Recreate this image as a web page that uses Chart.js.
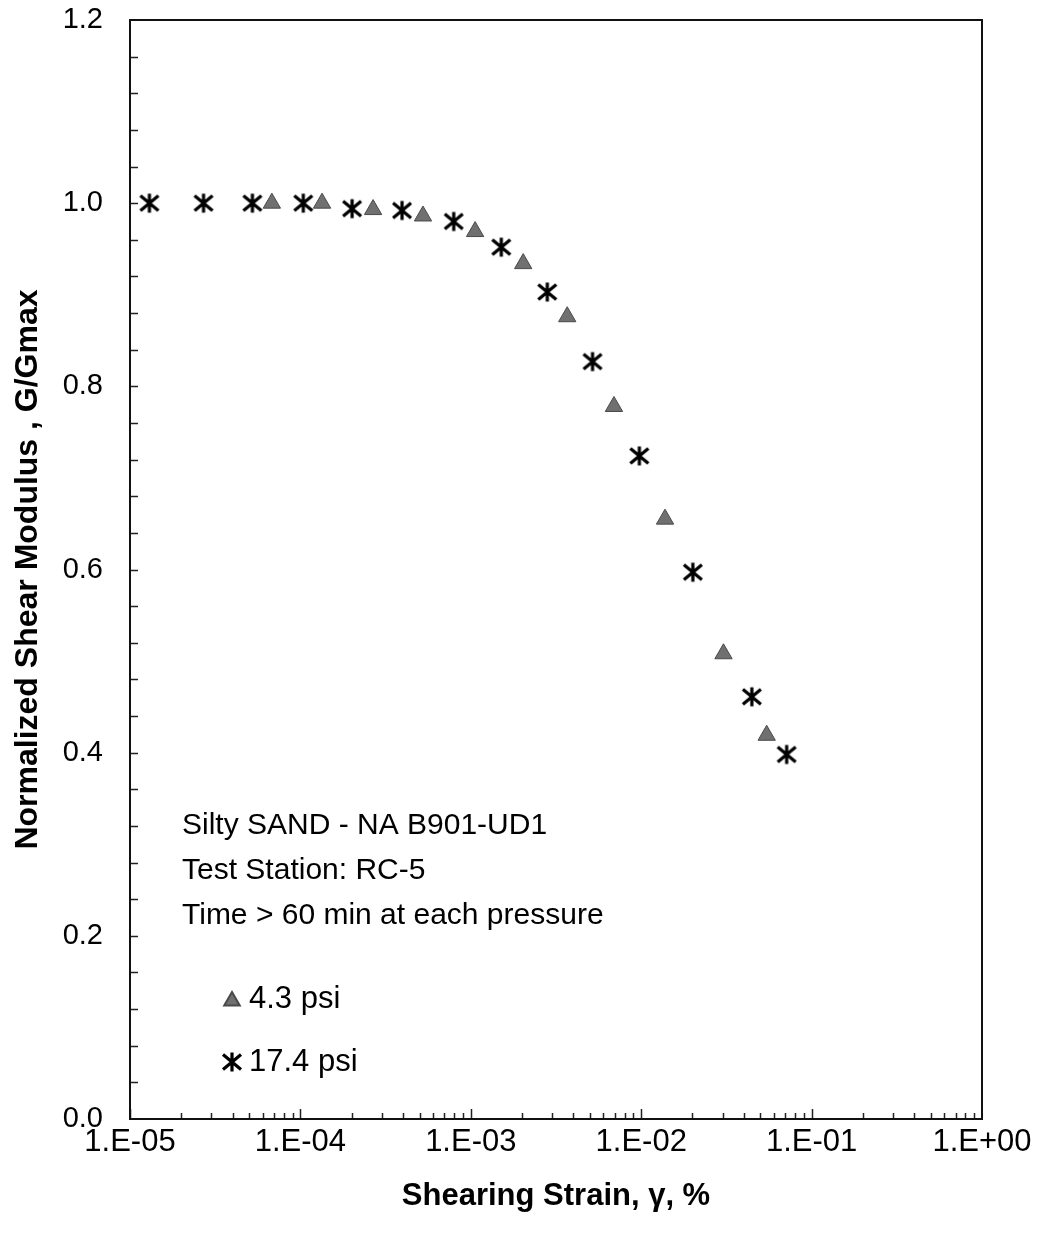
<!DOCTYPE html>
<html>
<head>
<meta charset="utf-8">
<script src="https://cdn.jsdelivr.net/npm/chart.js@4.4.1/dist/chart.umd.min.js"></script>
<style>
  html, body { margin: 0; padding: 0; background: #fff; }
  #wrap { width: 1040px; height: 1241px; }
</style>
</head>
<body>
<div id="wrap"><canvas id="modulusChart" width="1040" height="1241"></canvas></div>
<script>
    // G/Gmax vs shearing strain (%)
    var strain43 = [6.8e-5, 1.34e-4, 2.67e-4, 5.24e-4, 1.06e-3, 2.03e-3, 3.68e-3, 6.92e-3, 1.38e-2, 3.04e-2, 5.45e-2];
    var ratio43 = [1.0, 1.0, 0.993, 0.986, 0.969, 0.934, 0.876, 0.778, 0.655, 0.508, 0.419];

    var strain174 = [1.30e-5, 2.70e-5, 5.23e-5, 1.04e-4, 2.01e-4, 3.95e-4, 7.94e-4, 1.51e-3, 2.81e-3, 5.18e-3, 9.75e-3, 2.01e-2, 4.46e-2, 7.14e-2];
    var ratio174 = [1.0, 1.0, 1.0, 1.0, 0.994, 0.992, 0.980, 0.952, 0.903, 0.827, 0.724, 0.597, 0.461, 0.398];

    var seriesNames = ['4.3 psi', '17.4 psi'];
    var xTicks = [1e-5, 1e-4, 1e-3, 1e-2, 1e-1, 1];
    var noteLines = ['Silty SAND - NA B901-UD1', 'Test Station: RC-5', 'Time > 60 min at each pressure'];

    var FONT = 'Arial, "Liberation Sans", sans-serif';
    var TRI_FILL = '#707070';

    function toPoints(xs, ys) {
        return xs.map(function (x, i) { return { x: x, y: ys[i] }; });
    }

    // asterisk marker: vertical bar plus an X
    function makeStar(size, lw) {
        var c = document.createElement('canvas');
        c.width = size; c.height = size;
        var g = c.getContext('2d');
        var m = size / 2;
        g.strokeStyle = '#000';
        g.lineWidth = lw;
        g.beginPath();
        g.moveTo(m, m - 9.5); g.lineTo(m, m + 9.5);
        g.moveTo(m - 9, m - 7.5); g.lineTo(m + 9, m + 7.5);
        g.moveTo(m - 9, m + 7.5); g.lineTo(m + 9, m - 7.5);
        g.stroke();
        return c;
    }
    var starImg = makeStar(26, 3.2);

    function expLabel(v) {
        var e = Math.round(Math.log10(v));
        var s = e < 0 ? '-' : '+';
        return '1.E' + s + String(Math.abs(e)).padStart(2, '0');
    }

    // frame, inward tick marks and the text block / key inside the plot
    var framePlugin = {
        id: 'frame',
        afterDraw: function (chart) {
            var ctx = chart.ctx, a = chart.chartArea;
            var xs = chart.scales.x, ys = chart.scales.y;
            ctx.save();
            ctx.strokeStyle = '#222';
            ctx.lineWidth = 1.5;
            ctx.beginPath();
            // minor/major ticks on log axis
            for (var d = -5; d < 0; d++) {
                for (var k = 1; k <= 9; k++) {
                    var px = Math.round(xs.getPixelForValue(k * Math.pow(10, d))) + 0.5;
                    var len = k === 1 ? 10 : 6;
                    ctx.moveTo(px, a.bottom);
                    ctx.lineTo(px, a.bottom - len);
                }
            }
            // y ticks every 0.04
            for (var j = 1; j < 30; j++) {
                var py = Math.round(ys.getPixelForValue(j * 0.04)) + 0.5;
                ctx.moveTo(a.left, py);
                ctx.lineTo(a.left + 8, py);
            }
            ctx.stroke();

            ctx.lineWidth = 2;
            ctx.strokeStyle = '#111';
            ctx.strokeRect(a.left, a.top, a.right - a.left, a.bottom - a.top);

            ctx.fillStyle = '#000';
            ctx.font = '30px ' + FONT;
            ctx.textBaseline = 'alphabetic';
            ctx.textAlign = 'left';
            noteLines.forEach(function (t, i) {
                ctx.fillText(t, 182, 834 + i * 45);
            });

            ctx.font = '31px ' + FONT;
            ctx.fillStyle = TRI_FILL;
            ctx.strokeStyle = '#4a4a4a';
            Chart.helpers.drawPoint(ctx, {
                pointStyle: 'triangle', radius: 9, borderWidth: 1
            }, 232, 1001);
            ctx.fillStyle = '#000';
            ctx.fillText(seriesNames[0], 249, 1008);
            ctx.drawImage(starImg, 232 - starImg.width / 2, 1062 - starImg.height / 2);
            ctx.fillText(seriesNames[1], 249, 1071);
            ctx.restore();
        }
    };

    var ctx = document.getElementById('modulusChart').getContext('2d');

    var modulusChart = new Chart(ctx, {
        type: 'scatter',
        data: {
            datasets: [{
                label: seriesNames[0],
                data: toPoints(strain43, ratio43),
                pointStyle: 'triangle',
                pointRadius: 10,
                backgroundColor: TRI_FILL,
                borderColor: '#4a4a4a',
                borderWidth: 1
            }, {
                label: seriesNames[1],
                data: toPoints(strain174, ratio174),
                pointStyle: starImg,
                pointRadius: 12,
                borderColor: '#000',
                backgroundColor: '#000'
            }]
        },
        options: {
            responsive: false,
            animation: false,
            layout: { padding: { top: 20, right: 58, left: 0, bottom: 0 } },
            plugins: {
                legend: { display: false },
                tooltip: { enabled: false }
            },
            scales: {
                x: {
                    type: 'logarithmic',
                    min: 1e-5,
                    max: 1,
                    grid: { display: false, drawTicks: false },
                    border: { display: false },
                    afterBuildTicks: function (s) {
                        s.ticks = xTicks.map(function (v) { return { value: v }; });
                    },
                    afterFit: function (s) {
                        s.height = 122;
                        s.paddingLeft = 0;
                        s.paddingRight = 0;
                    },
                    ticks: {
                        autoSkip: false,
                        maxRotation: 0,
                        padding: 5,
                        color: '#000',
                        font: { family: FONT, size: 31 },
                        callback: function (v) { return expLabel(v); }
                    },
                    title: {
                        display: true,
                        text: 'Shearing Strain, γ, %',
                        color: '#000',
                        padding: { top: 0, bottom: 26 },
                        font: { family: FONT, size: 31, weight: 'bold' }
                    }
                },
                y: {
                    min: 0,
                    max: 1.2,
                    grid: { display: false, drawTicks: false },
                    border: { display: false },
                    afterFit: function (s) {
                        s.width = 130;
                        s.paddingTop = 0;
                        s.paddingBottom = 0;
                    },
                    ticks: {
                        stepSize: 0.2,
                        padding: 27,
                        color: '#000',
                        font: { family: FONT, size: 29 },
                        callback: function (v) { return v.toFixed(1); }
                    },
                    title: {
                        display: true,
                        text: 'Normalized Shear Modulus , G/Gmax',
                        color: '#000',
                        padding: { top: 9, bottom: 0 },
                        font: { family: FONT, size: 32, weight: 'bold' }
                    }
                }
            }
        },
        plugins: [framePlugin]
    });
</script>
</body>
</html>
